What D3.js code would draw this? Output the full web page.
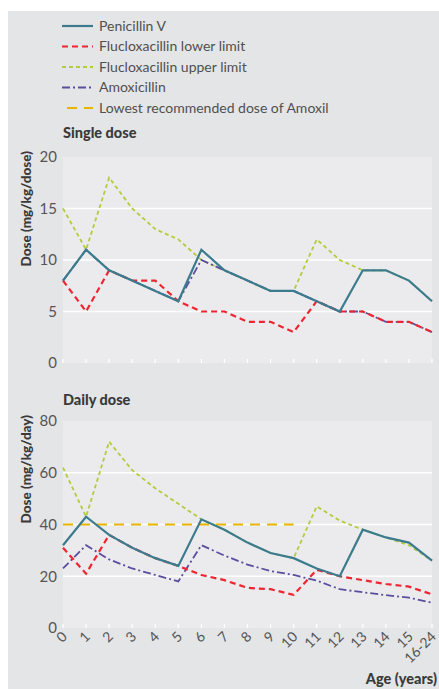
<!DOCTYPE html>
<html><head><meta charset="utf-8">
<script src="https://cdn.jsdelivr.net/npm/d3@7"></script>
<style>
html,body{margin:0;padding:0;background:#fff;}
svg{display:block;font-family:Lato,"Open Sans",sans-serif;}
</style></head>
<body>
<svg id="chart" width="439" height="689"></svg>
<script>
const ages = ["0","1","2","3","4","5","6","7","8","9","10","11","12","13","14","15","16-24"];
const seriesNames = ["Penicillin V","Flucloxacillin lower limit","Flucloxacillin upper limit","Amoxicillin","Lowest recommended dose of Amoxil"];

// Single dose (mg/kg/dose)
const penicillinSingle = [8,11,9,8,7,6,11,9,8,7,7,6,5,9,9,8,6];
const fluLowerSingle   = [8,5,9,8,8,6,5,5,4,4,3,6,5,5,4,4,3];
const fluUpperSingle   = [15,11,18,15,13,12,10,9,8,7,7,12,10,9,9,8,6];
const amoxSingle       = [8,11,9,8,7,6,10,9,8,7,7,6,5,5,4,4,3];
const singleTicks = [0,5,10,15,20];

// Daily dose (mg/kg/day)
const penicillinDaily = [32,43,36,31,27,24,42,38,33,29,27,23,20,38,35,33,26];
const fluLowerDaily   = [31,21,36,31,27,24,20.5,18.5,15.5,15,12.8,22.5,20,18.5,17,16,13];
const fluUpperDaily   = [62,43,72,61,54,48,42,38,33,29,27,47,41.5,38,35,32,26];
const amoxDaily       = [23,32,26.5,23,20.5,18,32,28,24.5,22,20.5,18.3,15,13.8,12.7,11.7,9.8];
const amoxilLowest    = [40,40,40,40,40,40,40,40,40,40,40,null,null,null,null,null,null];
const dailyTicks = [0,20,40,60,80];

const colors = {pen:"#3b7b8d", low:"#ee2530", up:"#b3cb3c", amox:"#5a4e9e", yel:"#e9b500"};
const styles = [
  {key:"pen", color:colors.pen, width:2.2, dash:null},
  {key:"low", color:colors.low, width:2.2, dash:"6,4"},
  {key:"up",  color:colors.up,  width:1.8, dash:"4,3"},
  {key:"amox",color:colors.amox,width:1.8, dash:"8,3,2,3"},
  {key:"yel", color:colors.yel, width:2.2, dash:"10,7"}
];

const svg = d3.select("#chart");
// outer background
svg.append("rect").attr("x",8).attr("y",11).attr("width",431).attr("height",678).attr("fill","#e4e5e7");

// legend
const leg = svg.append("g");
const legY = [26,46.5,67,87.5,108];
styles.forEach((s,i)=>{
  const g = leg.append("g").attr("transform",`translate(0,${legY[i]})`);
  g.append("line").attr("x1", s.key==="yel"?67:62).attr("x2",93).attr("y1",0).attr("y2",0)
    .attr("stroke",s.color).attr("stroke-width",2.2).attr("stroke-dasharray",s.dash);
  g.append("text").attr("x",99).attr("y",0).attr("dy","0.35em").attr("font-size",14)
    .attr("fill","#505050").text(seriesNames[i]);
});

const x = d3.scalePoint().domain(ages).range([63,432]);

function panel(title, titleY, yTop, yBot, ticks, yLabel, data){
  const y = d3.scaleLinear().domain([0,ticks[ticks.length-1]]).range([yBot,yTop]);
  const g = svg.append("g");
  g.append("text").attr("x",63).attr("y",titleY).attr("font-size",14.5).attr("font-weight",900)
    .attr("fill","#3a3a3a").text(title);
  g.append("rect").attr("x",63).attr("y",yTop).attr("width",432-63).attr("height",yBot-yTop).attr("fill","#ebebed");
  // gridlines
  g.selectAll(".grid").data(ticks.slice(1,-1)).join("line")
    .attr("x1",63).attr("x2",432).attr("y1",d=>y(d)).attr("y2",d=>y(d))
    .attr("stroke","#fff").attr("stroke-width",1.5);
  // x tick marks
  g.selectAll(".xt").data(ages).join("line")
    .attr("x1",d=>x(d)).attr("x2",d=>x(d)).attr("y1",yBot).attr("y2",yBot-4)
    .attr("stroke","#fff").attr("stroke-width",1.2);
  // y axis
  const ya = g.append("g").attr("transform","translate(63,0)")
    .call(d3.axisLeft(y).tickValues(ticks).tickSize(0).tickPadding(6));
  ya.select(".domain").remove();
  ya.selectAll("text").attr("font-size",15).attr("fill","#555").attr("font-family","Lato,'Open Sans',sans-serif");
  g.append("text").attr("transform",`translate(31,${yTop-6}) rotate(-90)`).attr("text-anchor","end")
    .attr("font-size",13.5).attr("font-weight",900).attr("fill","#3a3a3a").text(yLabel);
  // lines, bottom to top
  const order = ["yel","up","amox","low","pen"];
  order.forEach(k=>{
    if(!data[k]) return;
    const s = styles.find(t=>t.key===k);
    const line = d3.line().defined(d=>d!=null).x((d,i)=>x(ages[i])).y(d=>y(d));
    g.append("path").datum(data[k]).attr("d",line).attr("fill","none")
      .attr("stroke",s.color).attr("stroke-width",s.width).attr("stroke-dasharray",s.dash)
      .attr("stroke-linejoin","miter");
  });
  return y;
}

panel("Single dose",138,157,363,singleTicks,"Dose (mg/kg/dose)",
  {pen:penicillinSingle, low:fluLowerSingle, up:fluUpperSingle, amox:amoxSingle});
panel("Daily dose",405,421,628,dailyTicks,"Dose (mg/kg/day)",
  {pen:penicillinDaily, low:fluLowerDaily, up:fluUpperDaily, amox:amoxDaily, yel:amoxilLowest});

// x tick labels
svg.append("g").selectAll("text").data(ages).join("text")
  .attr("transform",d=>`translate(${x(d)+1.5},${634}) rotate(-45)`)
  .attr("text-anchor","end").attr("dy","0.35em").attr("font-size",14).attr("fill","#555")
  .text(d=>d);

svg.append("text").attr("x",437).attr("y",684).attr("text-anchor","end").attr("font-size",14.5)
  .attr("font-weight",900).attr("fill","#3a3a3a").text("Age (years)");
</script>
</body></html>
